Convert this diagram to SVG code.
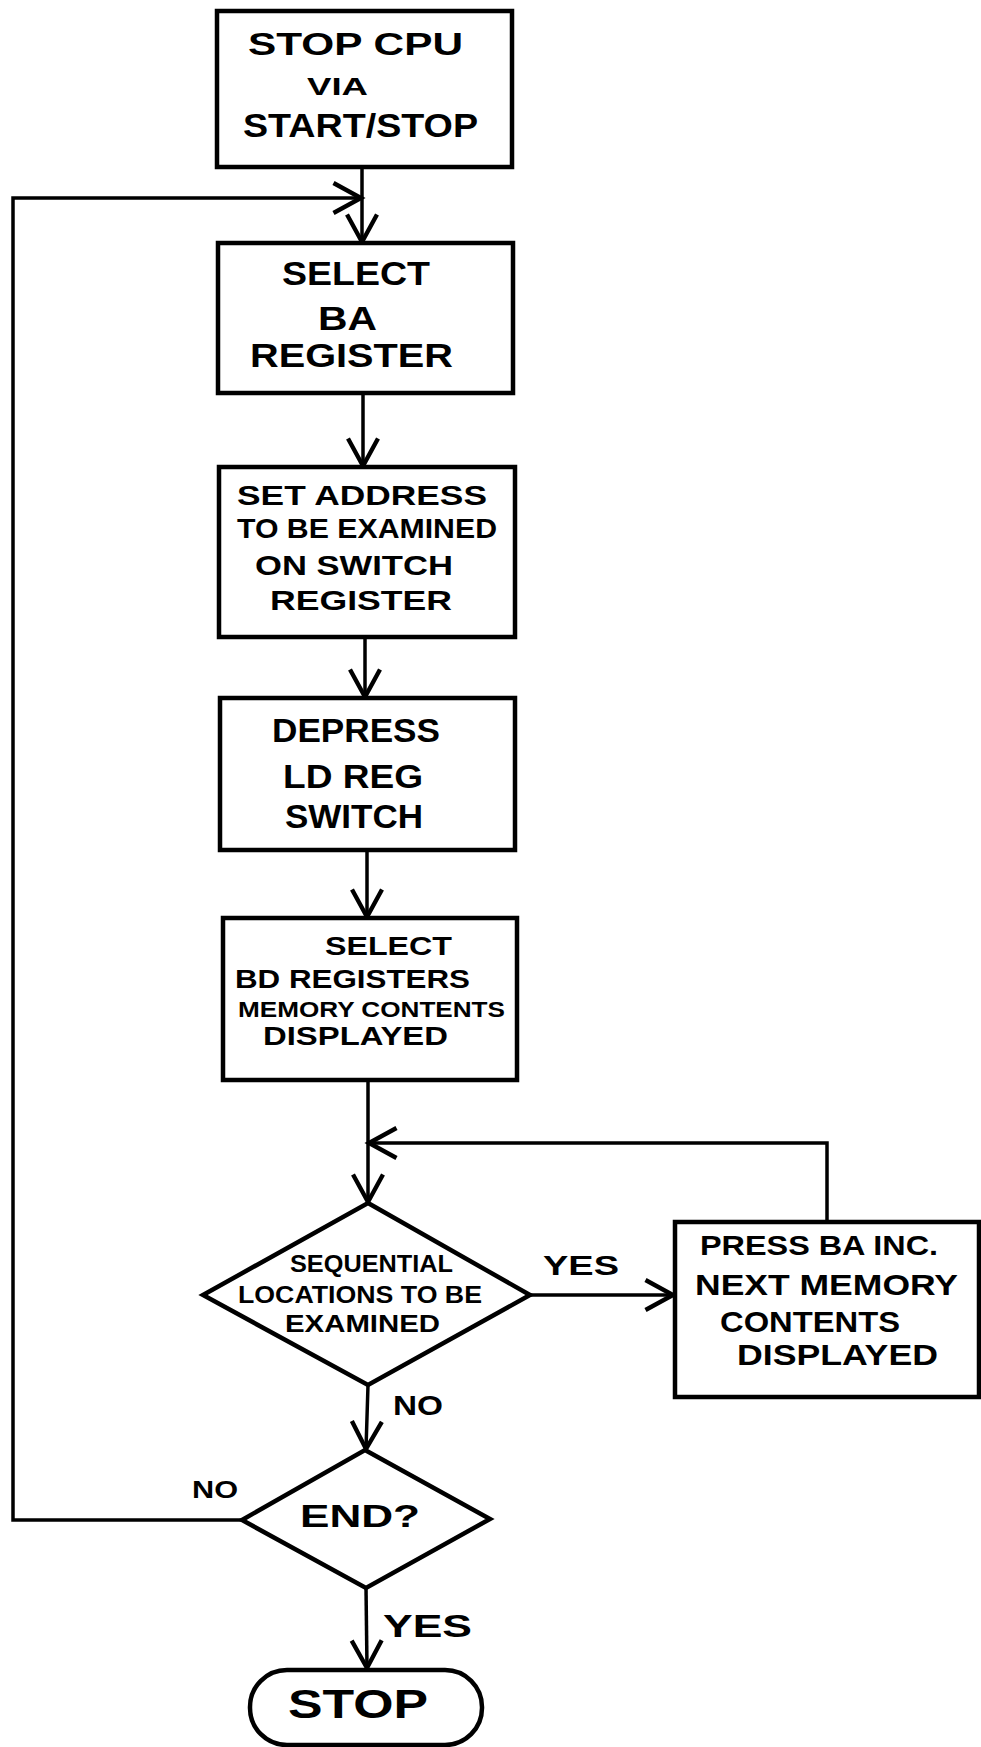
<svg xmlns="http://www.w3.org/2000/svg" width="981" height="1747" viewBox="0 0 981 1747">
<style>
.box{fill:#fff;stroke:#000;stroke-width:4.5}
.ln{fill:none;stroke:#000;stroke-width:3.5}
.t{font-family:"Liberation Sans",Arial,sans-serif;font-weight:bold;fill:#000}
</style>
<defs>
<marker id="ah" markerUnits="userSpaceOnUse" markerWidth="40" markerHeight="40" refX="0" refY="0" viewBox="-26 -16 30 32" orient="auto">
<path d="M-22,-12 L0,0 L-22,12" fill="none" stroke="#000" stroke-width="3.5" stroke-linejoin="miter"/>
</marker>
</defs>
<rect width="981" height="1747" fill="#fff"/>
<g id="connectors">
<path class="ln" d="M362,167 L362,242" marker-end="url(#ah)"/>
<path class="ln" d="M242,1520 L13,1520 L13,198 L361,198" marker-end="url(#ah)"/>
<path class="ln" d="M363,393 L363,466" marker-end="url(#ah)"/>
<path class="ln" d="M365,637 L365,697" marker-end="url(#ah)"/>
<path class="ln" d="M367,850 L367,917" marker-end="url(#ah)"/>
<path class="ln" d="M368,1080 L368,1202" marker-end="url(#ah)"/>
<path class="ln" d="M827,1222 L827,1143 L369,1143" marker-end="url(#ah)"/>
<path class="ln" d="M530,1295 L673,1295" marker-end="url(#ah)"/>
<path class="ln" d="M368,1385 L366,1449" marker-end="url(#ah)"/>
<path class="ln" d="M366,1588 L367,1668" marker-end="url(#ah)"/>
</g>
<g id="n1">
<rect class="box" x="217" y="11" width="295" height="156"/>
<text class="t" x="248" y="55" font-size="32" textLength="215" lengthAdjust="spacingAndGlyphs">STOP CPU</text>
<text class="t" x="307" y="95" font-size="24" textLength="61" lengthAdjust="spacingAndGlyphs">VIA</text>
<text class="t" x="243" y="137" font-size="34" textLength="235" lengthAdjust="spacingAndGlyphs">START/STOP</text>
</g>
<g id="n2">
<rect class="box" x="218" y="243" width="295" height="150"/>
<text class="t" x="282" y="285" font-size="34" textLength="148" lengthAdjust="spacingAndGlyphs">SELECT</text>
<text class="t" x="318" y="330" font-size="34" textLength="59" lengthAdjust="spacingAndGlyphs">BA</text>
<text class="t" x="250" y="367" font-size="34" textLength="203" lengthAdjust="spacingAndGlyphs">REGISTER</text>
</g>
<g id="n3">
<rect class="box" x="219" y="467" width="296" height="170"/>
<text class="t" x="237" y="505" font-size="28" textLength="250" lengthAdjust="spacingAndGlyphs">SET ADDRESS</text>
<text class="t" x="237" y="538" font-size="28" textLength="260" lengthAdjust="spacingAndGlyphs">TO BE EXAMINED</text>
<text class="t" x="255" y="575" font-size="28" textLength="198" lengthAdjust="spacingAndGlyphs">ON SWITCH</text>
<text class="t" x="270" y="610" font-size="28" textLength="182" lengthAdjust="spacingAndGlyphs">REGISTER</text>
</g>
<g id="n4">
<rect class="box" x="220" y="698" width="295" height="152"/>
<text class="t" x="272" y="742" font-size="33" textLength="168" lengthAdjust="spacingAndGlyphs">DEPRESS</text>
<text class="t" x="283" y="788" font-size="33" textLength="140" lengthAdjust="spacingAndGlyphs">LD REG</text>
<text class="t" x="285" y="828" font-size="33" textLength="138" lengthAdjust="spacingAndGlyphs">SWITCH</text>
</g>
<g id="n5">
<rect class="box" x="223" y="918" width="294" height="162"/>
<text class="t" x="325" y="955" font-size="26" textLength="127" lengthAdjust="spacingAndGlyphs">SELECT</text>
<text class="t" x="235" y="988" font-size="25" textLength="235" lengthAdjust="spacingAndGlyphs">BD REGISTERS</text>
<text class="t" x="238" y="1017" font-size="22" textLength="267" lengthAdjust="spacingAndGlyphs">MEMORY CONTENTS</text>
<text class="t" x="263" y="1045" font-size="25" textLength="185" lengthAdjust="spacingAndGlyphs">DISPLAYED</text>
</g>
<g id="d1">
<polygon class="box" points="368,1203 530,1295 368,1385 203,1295"/>
<text class="t" x="290" y="1272" font-size="24" textLength="163" lengthAdjust="spacingAndGlyphs">SEQUENTIAL</text>
<text class="t" x="238" y="1303" font-size="24" textLength="244" lengthAdjust="spacingAndGlyphs">LOCATIONS TO BE</text>
<text class="t" x="285" y="1332" font-size="24" textLength="155" lengthAdjust="spacingAndGlyphs">EXAMINED</text>
</g>
<g id="n6">
<rect class="box" x="675" y="1222" width="304" height="175"/>
<text class="t" x="700" y="1255" font-size="28" textLength="238" lengthAdjust="spacingAndGlyphs">PRESS BA INC.</text>
<text class="t" x="695" y="1295" font-size="30" textLength="263" lengthAdjust="spacingAndGlyphs">NEXT MEMORY</text>
<text class="t" x="720" y="1332" font-size="30" textLength="180" lengthAdjust="spacingAndGlyphs">CONTENTS</text>
<text class="t" x="737" y="1365" font-size="30" textLength="201" lengthAdjust="spacingAndGlyphs">DISPLAYED</text>
</g>
<g id="d2">
<polygon class="box" points="365,1450 490,1519 366,1588 242,1520"/>
<text class="t" x="300" y="1527" font-size="32" textLength="120" lengthAdjust="spacingAndGlyphs">END?</text>
</g>
<g id="n7">
<rect class="box" x="250" y="1670" width="232" height="75" rx="37" ry="37"/>
<text class="t" x="288" y="1718" font-size="40" textLength="140" lengthAdjust="spacingAndGlyphs">STOP</text>
</g>
<g id="labels">
<text class="t" x="543" y="1275" font-size="27" textLength="76" lengthAdjust="spacingAndGlyphs">YES</text>
<text class="t" x="393" y="1415" font-size="27" textLength="50" lengthAdjust="spacingAndGlyphs">NO</text>
<text class="t" x="192" y="1498" font-size="24" textLength="46" lengthAdjust="spacingAndGlyphs">NO</text>
<text class="t" x="383" y="1637" font-size="32" textLength="89" lengthAdjust="spacingAndGlyphs">YES</text>
</g>
</svg>
